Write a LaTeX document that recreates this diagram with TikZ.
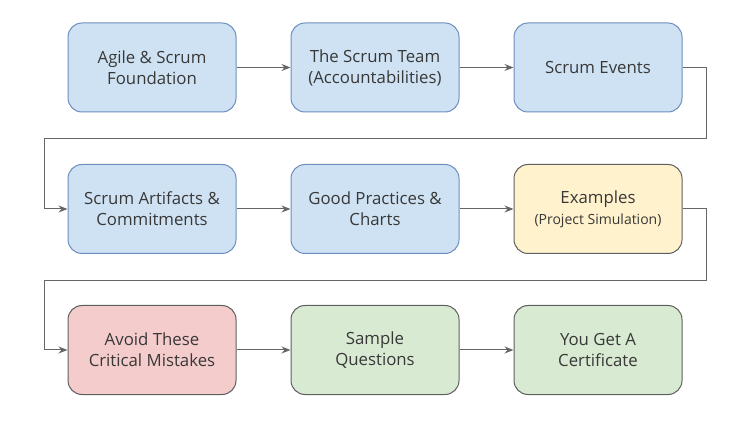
\documentclass[tikz,border=0pt]{standalone}
\usepackage{fontspec}
\setmainfont{Open Sans}
\usetikzlibrary{arrows.meta}
\definecolor{bluefill}{HTML}{CFE2F3}
\definecolor{blueline}{HTML}{6C8EBF}
\definecolor{yellowfill}{HTML}{FFF2CC}
\definecolor{redfill}{HTML}{F4CCCC}
\definecolor{greenfill}{HTML}{D9EAD3}
\definecolor{darkline}{HTML}{5F5F5F}
\definecolor{conn}{HTML}{666666}
\tikzset{
  box/.style={rectangle, rounded corners=14pt, minimum width=168pt, minimum height=89pt,
    line width=1pt, align=center, font=\fontsize{16.8}{21}\selectfont, text=black!78, inner sep=2pt},
  bluebox/.style={box, fill=bluefill, draw=blueline},
  yellowbox/.style={box, fill=yellowfill, draw=darkline},
  redbox/.style={box, fill=redfill, draw=darkline},
  greenbox/.style={box, fill=greenfill, draw=darkline},
  link/.style={draw=conn, line width=1pt, -{Stealth[length=9pt,width=7pt]}}
}
\begin{document}
\begin{tikzpicture}[x=1pt,y=-1pt]
\useasboundingbox (0,0) rectangle (745,422);
\node[bluebox] (a) at (152,67.5) {Agile \& Scrum\\Foundation};
\node[bluebox] (b) at (375,67.5) {The Scrum Team\\(Accountabilities)};
\node[bluebox] (c) at (598,67.5) {Scrum Events};
\node[bluebox] (d) at (152,209) {Scrum Artifacts \&\\Commitments};
\node[bluebox] (e) at (375,209) {Good Practices \&\\Charts};
\node[yellowbox] (f) at (598,209) {Examples\\{\fontsize{14}{18}\selectfont(Project Simulation)}};
\node[redbox] (g) at (152,350) {Avoid These\\Critical Mistakes};
\node[greenbox] (h) at (375,350) {Sample\\Questions};
\node[greenbox] (i) at (598,350) {You Get A\\Certificate};
\coordinate (c1) at (706,67.5);
\coordinate (c2) at (706,139);
\coordinate (c3) at (44,139);
\coordinate (c4) at (44,209);
\coordinate (f1) at (706,209);
\coordinate (f2) at (706,281);
\coordinate (f3) at (44,281);
\coordinate (f4) at (44,350);
\draw[link] (a) -- (b);
\draw[link] (b) -- (c);
\draw[link] (c.east) -- (c1) -- (c2) -- (c3) -- (c4) -- (d.west);
\draw[link] (d) -- (e);
\draw[link] (e) -- (f);
\draw[link] (f.east) -- (f1) -- (f2) -- (f3) -- (f4) -- (g.west);
\draw[link] (g) -- (h);
\draw[link] (h) -- (i);
\end{tikzpicture}
\end{document}
